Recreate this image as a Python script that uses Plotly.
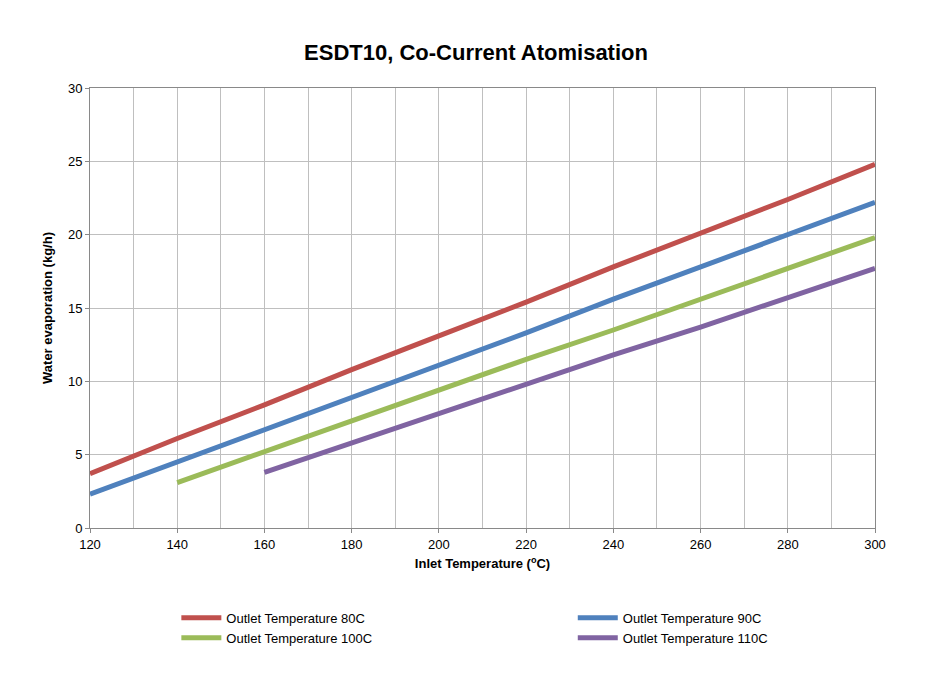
import plotly.graph_objects as go

# ── Data ──────────────────────────────────────────────────────────────────────
x_80 = [120, 140, 160, 180, 200, 220, 240, 260, 280, 300]
y_80 = [3.7, 6.1, 8.4, 10.8, 13.1, 15.4, 17.8, 20.1, 22.4, 24.8]
x_90 = [120, 140, 160, 180, 200, 220, 240, 260, 280, 300]
y_90 = [2.3, 4.5, 6.7, 8.9, 11.1, 13.3, 15.6, 17.8, 20.0, 22.2]
x_100 = [140, 160, 180, 200, 220, 240, 260, 280, 300]
y_100 = [3.1, 5.2, 7.3, 9.4, 11.5, 13.5, 15.6, 17.7, 19.8]
x_110 = [160, 180, 200, 220, 240, 260, 280, 300]
y_110 = [3.8, 5.8, 7.8, 9.8, 11.8, 13.7, 15.7, 17.7]

series = [
    ("Outlet Temperature 80C", x_80, y_80, "#C0504D", "legend"),
    ("Outlet Temperature 90C", x_90, y_90, "#4F81BD", "legend2"),
    ("Outlet Temperature 100C", x_100, y_100, "#9BBB59", "legend"),
    ("Outlet Temperature 110C", x_110, y_110, "#8064A2", "legend2"),
]

fig = go.Figure()
for name, xs, ys, col, lg in series:
    fig.add_trace(go.Scatter(x=xs, y=ys, name=name, mode="lines", legend=lg,
                             line=dict(color=col, width=5)))

axis_common = dict(showline=True, linecolor="#898989", linewidth=1, mirror=True,
                   gridcolor="#BFBFBF", gridwidth=1, zeroline=False,
                   ticks="outside", ticklen=4, tickcolor="#898989",
                   tickfont=dict(size=13, color="black"), automargin=False)

leg_common = dict(orientation="v", yanchor="top", xanchor="left",
                  font=dict(size=13), itemwidth=40, tracegroupgap=0,
                  bgcolor="rgba(0,0,0,0)")

fig.update_layout(
    width=936, height=674,
    paper_bgcolor="white", plot_bgcolor="white",
    font=dict(family="Liberation Sans, Arial, sans-serif", color="black"),
    title=dict(text="<b>ESDT10, Co-Current Atomisation</b>", x=0.5, y=0.945,
               xanchor="center", font=dict(size=22)),
    margin=dict(l=82, r=69, t=80, b=154),
    xaxis=dict(range=[120, 300], tickvals=list(range(120, 301, 20)),
               minor=dict(dtick=10, showgrid=True, gridcolor="#BFBFBF"),
               title=dict(text="<b>Inlet Temperature (<sup>o</sup>C)</b>",
                          font=dict(size=13), standoff=8),
               **axis_common),
    yaxis=dict(range=[0, 30], dtick=5,
               title=dict(text="<b>Water evaporation (kg/h)</b>",
                          font=dict(size=13), standoff=12),
               **axis_common),
    showlegend=True,
    legend=dict(x=0.11, y=-0.17, **leg_common),
    legend2=dict(x=0.615, y=-0.17, **leg_common),
)

fig.write_html("out.html")
